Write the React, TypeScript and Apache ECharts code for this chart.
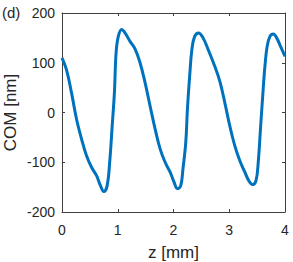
import React, { useEffect, useRef } from "react";
import * as echarts from "echarts";

const zValues = [
  0.0, 0.08, 0.17, 0.26, 0.35, 0.44, 0.53, 0.62, 0.69, 0.75, 0.81, 0.86, 0.9, 0.94, 0.97, 1.01, 1.07, 1.13,
  1.22, 1.31, 1.4, 1.49, 1.58, 1.67, 1.76, 1.85, 1.94, 2.01, 2.07, 2.13, 2.17, 2.22, 2.25, 2.29, 2.33, 2.38,
  2.45, 2.53, 2.62, 2.74, 2.83, 2.92, 3.01, 3.1, 3.19, 3.28, 3.35, 3.42, 3.48, 3.52, 3.56, 3.6, 3.64, 3.68,
  3.73, 3.79, 3.85, 3.92, 4.0,
];
const comValues = [
  110, 86, 40, -13, -53, -87, -110, -127, -147, -159, -147, -93, -27, 40, 120, 153, 167, 160,
  143, 128, 100, 60, 13, -33, -73, -100, -120, -140, -153, -147, -113, -60, 7, 73, 127, 153,
  160, 150, 127, 93, 63, 20, -27, -67, -97, -120, -137, -145, -137, -100, -33, 33, 93, 133,
  153, 158, 150, 133, 113,
];
const xTicks = [0, 1, 2, 3, 4];
const yTicks = [-200, -100, 0, 100, 200];

const FONT = "Liberation Sans, Arial, Helvetica, sans-serif";
const AXIS_COLOR = "#404040";
const TEXT_COLOR = "#262626";

export default function App() {
  const ref = useRef<HTMLDivElement>(null);
  useEffect(() => {
    if (!ref.current) return;
    const chart = echarts.init(ref.current, undefined, { renderer: "svg" });
    const data = zValues.map((z, i) => [z, comValues[i]]);
    const axisLine = { show: true, onZero: false, lineStyle: { color: AXIS_COLOR, width: 1 } };
    const axisTick = { show: true, inside: true, length: 3, lineStyle: { color: AXIS_COLOR, width: 1 } };
    chart.setOption({
      animation: false,
      backgroundColor: "#ffffff",
      textStyle: { fontFamily: FONT },
      grid: { left: 62, top: 13, right: 8, bottom: 50, containLabel: false, outerBoundsMode: "none" },
      xAxis: [
        {
          type: "value",
          min: xTicks[0],
          max: xTicks[xTicks.length - 1],
          interval: 1,
          position: "bottom",
          axisLine,
          axisTick,
          splitLine: { show: false },
          axisLabel: { color: TEXT_COLOR, fontSize: 14, fontFamily: FONT, margin: 11 },
          name: "z [mm]",
          nameLocation: "middle",
          nameGap: 32,
          nameMoveOverlap: false,
          nameTextStyle: { color: TEXT_COLOR, fontSize: 17, fontFamily: FONT },
        },
        {
          type: "value",
          min: xTicks[0],
          max: xTicks[xTicks.length - 1],
          interval: 1,
          position: "top",
          axisLine,
          axisTick,
          splitLine: { show: false },
          axisLabel: { show: false },
        },
      ],
      yAxis: [
        {
          type: "value",
          min: yTicks[0],
          max: yTicks[yTicks.length - 1],
          interval: 100,
          position: "left",
          axisLine,
          axisTick,
          splitLine: { show: false },
          axisLabel: { color: TEXT_COLOR, fontSize: 14, fontFamily: FONT, margin: 7 },
          name: "COM [nm]",
          nameLocation: "middle",
          nameGap: 43,
          nameMoveOverlap: false,
          nameTextStyle: { color: TEXT_COLOR, fontSize: 17, fontFamily: FONT },
        },
        {
          type: "value",
          min: yTicks[0],
          max: yTicks[yTicks.length - 1],
          interval: 100,
          position: "right",
          axisLine,
          axisTick,
          splitLine: { show: false },
          axisLabel: { show: false },
        },
      ],
      graphic: [
        {
          type: "text",
          left: 2,
          top: 5,
          style: { text: "(d)", fill: TEXT_COLOR, fontSize: 15, fontFamily: FONT },
        },
      ],
      series: [
        {
          type: "line",
          data,
          xAxisIndex: 0,
          yAxisIndex: 0,
          smooth: 0.4,
          showSymbol: false,
          lineStyle: { color: "#0072BD", width: 3 },
        },
      ],
    });
    return () => chart.dispose();
  }, []);
  return (
    <div
      ref={ref}
      style={{ position: "absolute", left: 0, top: 0, width: 293, height: 262 }}
    />
  );
}
